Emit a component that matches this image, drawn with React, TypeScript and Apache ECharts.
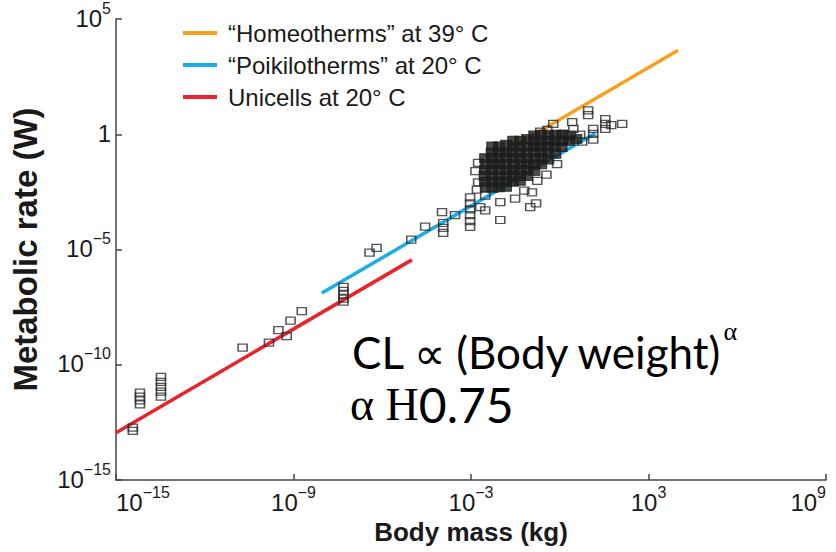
import React, { useEffect, useRef } from 'react';
import * as echarts from 'echarts';

// Axis ticks (log10 of the values)
const xTickExp = [-15, -9, -3, 3, 9]; // body mass, kg
const yTickExp = [-15, -10, -5, 0, 5]; // metabolic rate, W

// Fitted lines (log10 mass, log10 rate)
const homeoLogMass = [-2.0, 4.0];
const homeoLogRate = [-0.86, 3.64];
const poikiLogMass = [-8.04, 1.2];
const poikiLogRate = [-6.89, 0.04];
const uniLogMass = [-15.0, -5.0];
const uniLogRate = [-12.95, -5.45];

// Individual measurements (open squares): [log10 mass, log10 rate]
const pointsSmall: number[][] = [
  [-14.43, -12.73], [-14.43, -12.87],
  [-14.19, -11.21], [-14.19, -11.38], [-14.19, -11.55], [-14.19, -11.72],
  [-13.48, -10.53], [-13.48, -10.74], [-13.48, -10.96], [-13.48, -11.17], [-13.48, -11.38],
  [-10.72, -9.26], [-9.83, -9.04], [-9.51, -8.5], [-9.23, -8.76], [-9.1, -8.09], [-8.72, -7.67],
  [-7.31, -6.62], [-7.31, -6.79], [-7.31, -6.96], [-7.31, -7.13], [-7.31, -7.26],
  [-6.43, -5.14], [-6.19, -4.93],
];
const pointsMid: number[][] = [
  [-5.02, -4.57], [-4.55, -4.01],
  [-3.98, -3.38], [-3.94, -3.85], [-3.94, -4.06], [-3.94, -4.28],
  [-3.54, -3.51],
  [-3.03, -2.74], [-3.03, -3.0], [-3.03, -3.26], [-3.03, -3.51], [-3.03, -3.77], [-3.03, -4.02],
  [-2.76, -1.24], [-2.29, -0.96], [-2.76, -2.09], [-2.69, -3.16], [-2.52, -3.3], [-2.52, -2.66],
  [-2.01, -2.94], [-2.01, -3.72], [-1.51, -2.79], [-1.0, -3.16], [-0.8, -3.0], [-0.94, -2.52],
  [-0.76, -2.02], [-2.85, -1.6], [-2.8, -2.4], [-1.2, -2.45], [-0.45, -1.75],
  [-0.66, 0.11], [-0.42, 0.19], [-0.22, 0.45], [-0.09, 0.02], [0.12, 0.02], [0.12, -0.32],
  [-0.09, -1.3], [0.42, 0.53], [0.46, 0.23], [0.69, -0.02], [0.76, -0.32],
  [0.96, 1.04], [0.96, 0.83], [1.13, 0.23], [1.13, 0.02], [1.13, -0.23],
  [1.54, 0.66], [1.54, 0.45], [1.54, 0.23], [1.74, 0.4], [2.11, 0.45],
];
// Dense core of overlapping measurements (small mammals, birds, etc.)
const pointsDense: number[][] = [
  [-2.52, -1.04], [-2.5, -1.3], [-2.52, -1.55], [-2.54, -1.81], [-2.52, -2.06], [-2.5, -2.3],
  [-2.28, -0.53], [-2.3, -0.79], [-2.28, -1.04], [-2.26, -1.3], [-2.28, -1.55], [-2.3, -1.81], [-2.28, -2.06], [-2.27, -2.32],
  [-2.05, -0.53], [-2.05, -0.79], [-2.07, -1.04], [-2.05, -1.3], [-2.03, -1.55], [-2.05, -1.81], [-2.05, -2.06], [-2.06, -2.3],
  [-1.81, -0.45], [-1.81, -0.79], [-1.83, -1.04], [-1.81, -1.3], [-1.79, -1.55], [-1.81, -1.81], [-1.81, -2.06], [-1.82, -2.28],
  [-1.57, -0.28], [-1.57, -0.53], [-1.59, -0.79], [-1.57, -1.04], [-1.55, -1.3], [-1.57, -1.55], [-1.57, -1.81], [-1.58, -2.06],
  [-1.34, -0.28], [-1.34, -0.53], [-1.36, -0.79], [-1.34, -1.04], [-1.32, -1.3], [-1.34, -1.55], [-1.34, -1.81], [-1.35, -2.02],
  [-1.1, -0.2], [-1.1, -0.53], [-1.12, -0.79], [-1.1, -1.04], [-1.08, -1.3], [-1.1, -1.55], [-1.1, -1.81],
  [-0.86, -0.05], [-0.86, -0.28], [-0.88, -0.53], [-0.86, -0.79], [-0.84, -1.04], [-0.86, -1.3], [-0.86, -1.6],
  [-0.63, -0.02], [-0.63, -0.28], [-0.65, -0.53], [-0.63, -0.79], [-0.61, -1.04], [-0.63, -1.3],
  [-0.39, -0.02], [-0.39, -0.28], [-0.41, -0.53], [-0.39, -0.79], [-0.39, -1.1],
  [-0.15, -0.05], [-0.15, -0.28], [-0.17, -0.53], [-0.15, -0.85],
  [0.08, -0.02], [0.08, -0.28], [0.06, -0.55],
  [0.32, -0.05], [0.32, -0.3],
  [0.56, -0.2],
];

const seriesNames = ['\u201cHomeotherms\u201d at 39\u00b0 C', '\u201cPoikilotherms\u201d at 20\u00b0 C', 'Unicells at 20\u00b0 C'];
const lineColors = ['#F5A11C', '#1BADE6', '#E8232B'];

const FONT = '"Liberation Sans", Arial, Helvetica, sans-serif';
const ANNOT_FONT = 'Lato, "Open Sans", sans-serif';
const SERIF = '"Liberation Serif", "DejaVu Serif", serif';

const pair = (xs: number[], ys: number[]) => xs.map((x, i) => [x, ys[i]]);

const expLabel = (v: number) => {
  if (v === 0) return '{b|1}';
  const s = v < 0 ? '\u2212' + String(-v) : String(v);
  return '{b|10}{s|' + s + '}';
};

const labelRich = {
  b: { fontFamily: FONT, fontSize: 24, color: '#1a1a1a', verticalAlign: 'bottom', lineHeight: 30 },
  s: { fontFamily: FONT, fontSize: 16, color: '#1a1a1a', verticalAlign: 'top', lineHeight: 30 },
};

export default function App() {
  const ref = useRef<HTMLDivElement>(null);
  useEffect(() => {
    document.body.style.margin = '0';
    if (!ref.current) return;
    const chart = echarts.init(ref.current, null, { renderer: 'svg' });
    const lineSeries = [
      [homeoLogMass, homeoLogRate],
      [poikiLogMass, poikiLogRate],
      [uniLogMass, uniLogRate],
    ].map(([xs, ys], i) => ({
      name: seriesNames[i],
      type: 'line',
      data: pair(xs, ys),
      showSymbol: false,
      symbol: 'none',
      lineStyle: { color: lineColors[i], width: 3.5 },
      itemStyle: { color: lineColors[i] },
      z: 2,
    }));
    const openSquare = {
      type: 'scatter',
      symbol: 'rect',
      symbolSize: [9, 7],
      itemStyle: { color: 'rgba(255,255,255,0)', borderColor: '#2b2b2b', borderWidth: 1.4 },
      z: 3,
    };
    chart.setOption({
      animation: false,
      backgroundColor: '#ffffff',
      grid: { left: 116, right: 10, top: 10, bottom: 72, containLabel: false },
      legend: {
        orient: 'vertical',
        left: 178,
        top: 16,
        itemWidth: 34,
        itemHeight: 4,
        itemGap: 8,
        icon: 'rect',
        data: seriesNames,
        textStyle: { fontFamily: FONT, fontSize: 24, color: '#1a1a1a', padding: [0, 0, 0, 6] },
      },
      xAxis: {
        type: 'value',
        min: xTickExp[0],
        max: xTickExp[xTickExp.length - 1],
        interval: 6,
        name: 'Body mass (kg)',
        nameLocation: 'middle',
        nameGap: 38,
        nameTextStyle: { fontFamily: FONT, fontSize: 26, fontWeight: 'bold', color: '#1a1a1a' },
        axisLine: { show: true, onZero: false, lineStyle: { color: '#444', width: 1.5 } },
        axisTick: { show: true, inside: true, length: 6, lineStyle: { color: '#444', width: 1.5 } },
        splitLine: { show: false },
        axisLabel: {
          formatter: expLabel,
          rich: labelRich,
          margin: 4,
          alignMinLabel: 'left',
          alignMaxLabel: 'right',
        },
      },
      yAxis: {
        type: 'value',
        min: yTickExp[0],
        max: yTickExp[yTickExp.length - 1],
        interval: 5,
        name: 'Metabolic rate (W)',
        nameLocation: 'middle',
        nameGap: 74,
        nameTextStyle: { fontFamily: FONT, fontSize: 33, fontWeight: 'bold', color: '#1a1a1a' },
        axisLine: { show: true, onZero: false, lineStyle: { color: '#444', width: 1.5 } },
        axisTick: { show: true, inside: true, length: 6, lineStyle: { color: '#444', width: 1.5 } },
        splitLine: { show: false },
        axisLabel: { formatter: expLabel, rich: labelRich, margin: 5, padding: [0, 0, 8, 0] },
      },
      series: [
        ...lineSeries,
        { ...openSquare, name: 'small', data: pointsSmall },
        { ...openSquare, name: 'mid', data: pointsMid },
        {
          type: 'scatter',
          name: 'dense',
          symbol: 'rect',
          symbolSize: [11, 9],
          data: pointsDense,
          itemStyle: { color: '#1e1e1e', borderColor: '#1e1e1e', borderWidth: 1 },
          z: 3,
        },
      ],
      graphic: [
        {
          type: 'text',
          left: 352,
          top: 318,
          style: {
            text: '{a|CL \u221d (Body weight)}{s|\u03b1}',
            rich: {
              a: { fontFamily: ANNOT_FONT, fontSize: 44, fill: '#000', verticalAlign: 'bottom', lineHeight: 56 },
              s: { fontFamily: SERIF, fontSize: 26, fill: '#000', verticalAlign: 'top', lineHeight: 50 },
            },
          },
        },
        {
          type: 'text',
          left: 350,
          top: 380,
          style: {
            text: '{g|\u03b1 H}{n|0.75}',
            rich: {
              g: { fontFamily: SERIF, fontSize: 46, fill: '#000' },
              n: { fontFamily: ANNOT_FONT, fontSize: 48, fill: '#000' },
            },
          },
        },
      ],
    });
    return () => chart.dispose();
  }, []);
  return <div ref={ref} style={{ width: 836, height: 552 }} />;
}
